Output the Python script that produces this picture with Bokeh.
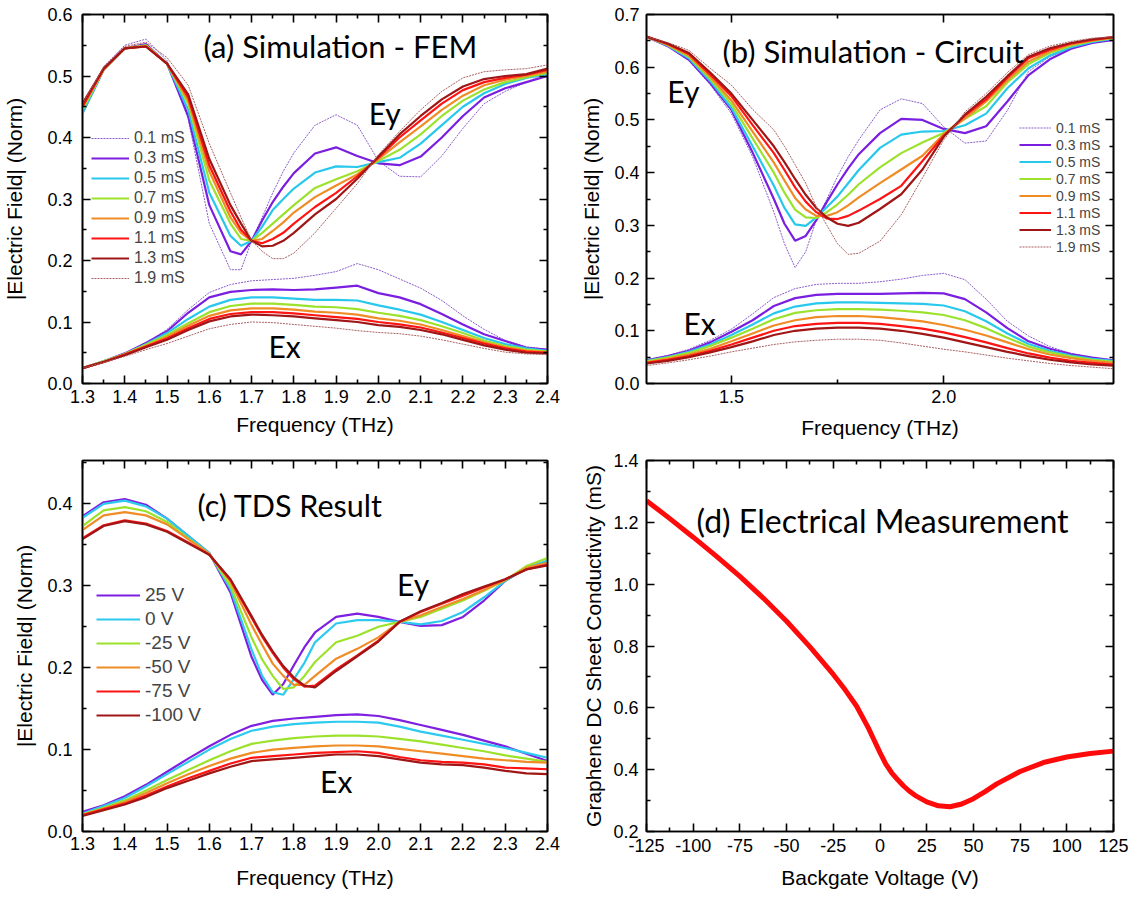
from bokeh.plotting import figure
from bokeh.layouts import column, row
from bokeh.models import (LinearAxis, FixedTicker, Range1d, Label, Legend, LegendItem,
                          CustomJSTickFormatter, NumeralTickFormatter)
from bokeh.embed import file_html
from bokeh.resources import INLINE

# ---------------- data ----------------
# (a) FEM simulation
cond_labels = ["0.1 mS", "0.3 mS", "0.5 mS", "0.7 mS", "0.9 mS", "1.1 mS", "1.3 mS", "1.9 mS"]
freq_a_ey = [1.30, 1.35, 1.40, 1.45, 1.50, 1.55, 1.60, 1.65, 1.675, 1.70, 1.725, 1.75, 1.775,
             1.80, 1.85, 1.90, 1.95, 2.00, 2.05, 2.10, 2.15, 2.20, 2.25, 2.30, 2.35, 2.40]
a_ey_01 = [.44, .515, .55, .56, .525, .43, .26, .185, .185, .232, .27, .31, .345, .375, .42, .437, .42, .362, .337, .336, .37, .415, .455, .475, .49, .505]
a_ey_03 = [.44, .51, .545, .552, .52, .435, .29, .215, .21, .232, .265, .295, .32, .342, .374, .384, .37, .358, .355, .369, .40, .435, .465, .48, .49, .50]
a_ey_05 = [.44, .51, .545, .55, .52, .445, .31, .24, .224, .232, .255, .282, .30, .317, .343, .353, .352, .36, .367, .39, .42, .45, .472, .487, .497, .503]
a_ey_07 = [.445, .51, .545, .55, .52, .455, .33, .26, .235, .232, .245, .26, .275, .29, .318, .332, .345, .362, .38, .405, .435, .46, .478, .49, .498, .505]
a_ey_09 = [.45, .51, .545, .549, .52, .46, .345, .27, .245, .232, .235, .248, .262, .278, .303, .322, .34, .365, .392, .418, .445, .468, .485, .494, .50, .507]
a_ey_11 = [.45, .512, .545, .548, .52, .465, .355, .28, .25, .232, .228, .235, .245, .26, .287, .31, .337, .367, .40, .428, .455, .477, .49, .497, .502, .51]
a_ey_13 = [.455, .512, .545, .548, .52, .47, .365, .29, .26, .232, .223, .224, .232, .245, .275, .30, .333, .369, .405, .435, .462, .483, .495, .50, .503, .512]
a_ey_19 = [.455, .515, .548, .555, .53, .485, .39, .31, .27, .232, .215, .203, .203, .212, .245, .285, .325, .372, .41, .445, .475, .497, .507, .51, .512, .518]

freq_a_ex = [1.30, 1.35, 1.40, 1.45, 1.50, 1.55, 1.60, 1.65, 1.70, 1.75, 1.80, 1.85,
             1.90, 1.95, 2.00, 2.05, 2.10, 2.15, 2.20, 2.25, 2.30, 2.35, 2.40]
a_ex_01 = [.025, .036, .049, .066, .088, .12, .148, .161, .167, .169, .171, .176, .182, .195, .185, .17, .155, .135, .11, .088, .07, .06, .055]
a_ex_03 = [.025, .036, .049, .066, .085, .115, .14, .149, .152, .153, .152, .153, .156, .159, .147, .14, .129, .113, .096, .08, .069, .058, .055]
a_ex_05 = [.025, .036, .048, .064, .082, .105, .125, .136, .14, .14, .138, .136, .136, .135, .127, .12, .112, .10, .087, .074, .064, .057, .053]
a_ex_07 = [.025, .036, .048, .063, .079, .098, .116, .126, .13, .13, .128, .125, .124, .121, .115, .11, .103, .093, .082, .07, .061, .055, .052]
a_ex_09 = [.025, .035, .047, .061, .076, .094, .11, .119, .122, .122, .12, .117, .115, .112, .106, .102, .096, .087, .077, .067, .059, .053, .051]
a_ex_11 = [.025, .035, .047, .06, .073, .09, .105, .113, .116, .116, .114, .111, .108, .105, .10, .096, .091, .083, .074, .065, .057, .052, .05]
a_ex_13 = [.025, .035, .046, .059, .071, .087, .101, .109, .112, .111, .109, .106, .103, .10, .095, .092, .087, .08, .071, .062, .055, .05, .049]
a_ex_19 = [.025, .034, .044, .055, .065, .077, .089, .096, .10, .099, .096, .093, .09, .086, .083, .081, .077, .071, .064, .057, .051, .048, .047]

# (b) circuit simulation
freq_b_ey = [1.30, 1.35, 1.40, 1.45, 1.50, 1.55, 1.60, 1.625, 1.65, 1.675, 1.70, 1.725, 1.75, 1.775,
             1.80, 1.85, 1.90, 1.95, 2.00, 2.05, 2.10, 2.15, 2.20, 2.25, 2.30, 2.35, 2.40]
b_ey_01 = [.658, .64, .612, .567, .512, .43, .325, .265, .22, .25, .31, .35, .393, .43, .462, .519, .54, .531, .487, .456, .46, .518, .592, .62, .637, .647, .653]
b_ey_03 = [.658, .64, .614, .57, .519, .438, .35, .303, .271, .28, .31, .345, .378, .408, .435, .475, .502, .50, .483, .475, .488, .535, .585, .615, .635, .646, .652]
b_ey_05 = [.658, .641, .617, .574, .523, .45, .375, .333, .302, .299, .315, .335, .355, .38, .405, .447, .472, .478, .479, .49, .512, .56, .598, .622, .638, .648, .654]
b_ey_07 = [.658, .642, .62, .578, .53, .465, .40, .362, .33, .315, .314, .325, .34, .358, .378, .41, .437, .457, .475, .502, .526, .571, .606, .627, .641, .65, .655]
b_ey_09 = [.658, .643, .622, .582, .537, .478, .419, .385, .352, .33, .318, .318, .325, .338, .353, .38, .406, .432, .473, .503, .535, .575, .611, .63, .643, .651, .656]
b_ey_11 = [.658, .644, .625, .586, .545, .49, .437, .405, .372, .345, .325, .313, .312, .318, .328, .35, .375, .422, .47, .508, .539, .58, .617, .633, .645, .652, .657]
b_ey_13 = [.658, .645, .627, .59, .55, .50, .45, .42, .388, .358, .333, .315, .303, .299, .305, .331, .359, .406, .468, .51, .544, .583, .62, .636, .646, .653, .657]
b_ey_19 = [.658, .647, .632, .598, .566, .52, .481, .45, .415, .38, .335, .30, .265, .245, .247, .27, .32, .39, .462, .515, .55, .59, .624, .64, .649, .655, .658]

freq_b_ex = freq_a_ex
b_ex_01 = [.045, .053, .065, .082, .103, .132, .163, .18, .188, .19, .19, .193, .198, .205, .209, .197, .16, .118, .09, .07, .057, .049, .043]
b_ex_03 = [.044, .052, .062, .078, .098, .12, .147, .162, .168, .17, .17, .17, .171, .172, .171, .16, .135, .105, .08, .066, .056, .049, .044]
b_ex_05 = [.043, .05, .06, .074, .092, .112, .133, .146, .152, .154, .154, .153, .152, .151, .148, .137, .118, .095, .075, .062, .053, .047, .043]
b_ex_07 = [.042, .049, .058, .071, .087, .104, .122, .134, .139, .141, .141, .14, .138, .135, .13, .12, .105, .087, .07, .059, .051, .045, .041]
b_ex_09 = [.04, .047, .055, .066, .08, .095, .11, .12, .126, .128, .128, .126, .122, .118, .111, .102, .091, .078, .065, .055, .048, .043, .039]
b_ex_11 = [.039, .045, .052, .062, .074, .087, .10, .109, .113, .115, .115, .113, .109, .104, .097, .088, .078, .067, .057, .049, .043, .039, .036]
b_ex_13 = [.038, .043, .05, .059, .069, .08, .092, .10, .104, .106, .106, .104, .10, .094, .087, .078, .069, .06, .052, .045, .04, .036, .034]
b_ex_19 = [.034, .039, .045, .052, .06, .067, .074, .079, .082, .084, .084, .082, .077, .071, .065, .06, .054, .048, .043, .038, .034, .031, .028]

# (c) TDS result
volt_labels = ["25 V", "0 V", "-25 V", "-50 V", "-75 V", "-100 V"]
freq_c_ey = [1.30, 1.35, 1.40, 1.45, 1.50, 1.55, 1.60, 1.65, 1.70, 1.725, 1.75, 1.775, 1.80,
             1.825, 1.85, 1.90, 1.95, 2.00, 2.05, 2.10, 2.15, 2.20, 2.25, 2.30, 2.35, 2.40]
c_ey_p25 = [.385, .402, .406, .399, .382, .361, .34, .292, .213, .185, .167, .18, .203, .225, .243, .262, .266, .262, .256, .251, .252, .262, .282, .306, .322, .33]
c_ey_0 = [.383, .40, .404, .397, .382, .361, .34, .296, .222, .19, .17, .167, .186, .206, .231, .254, .258, .258, .256, .253, .257, .268, .286, .306, .321, .331]
c_ey_m25 = [.373, .392, .396, .391, .378, .358, .339, .3, .237, .21, .19, .174, .176, .19, .207, .231, .239, .25, .256, .262, .272, .282, .294, .307, .324, .334]
c_ey_m50 = [.368, .386, .39, .386, .375, .357, .339, .305, .252, .228, .205, .19, .179, .179, .19, .211, .223, .237, .256, .264, .274, .284, .295, .307, .322, .328]
c_ey_m75 = [.358, .374, .38, .376, .367, .353, .338, .307, .261, .238, .218, .20, .186, .177, .178, .198, .215, .233, .256, .268, .278, .288, .298, .308, .32, .326]
c_ey_m100 = [.357, .373, .379, .375, .366, .352, .338, .308, .263, .24, .22, .202, .188, .178, .176, .196, .214, .232, .256, .269, .279, .29, .299, .308, .32, .325]

freq_c_ex = freq_a_ex
c_ex_p25 = [.024, .032, .043, .057, .073, .089, .104, .118, .129, .135, .138, .14, .142, .143, .141, .136, .13, .124, .118, .111, .104, .095, .086]
c_ex_0 = [.022, .031, .041, .055, .07, .085, .10, .113, .123, .128, .131, .133, .134, .134, .133, .128, .122, .117, .112, .107, .102, .096, .09]
c_ex_m25 = [.021, .029, .038, .05, .063, .075, .087, .098, .107, .111, .114, .116, .117, .117, .116, .113, .11, .106, .102, .098, .093, .089, .085]
c_ex_m50 = [.02, .028, .036, .047, .059, .07, .08, .089, .096, .10, .102, .104, .105, .105, .104, .101, .098, .095, .092, .089, .087, .085, .084]
c_ex_m75 = [.02, .027, .034, .044, .055, .065, .074, .083, .09, .092, .094, .096, .097, .098, .096, .091, .087, .085, .084, .082, .078, .077, .076]
c_ex_m100 = [.019, .026, .033, .042, .053, .062, .071, .079, .086, .088, .09, .092, .094, .094, .092, .088, .084, .082, .081, .078, .074, .071, .07]

# (d) electrical measurement
gate_v = [-125, -112.5, -100, -87.5, -75, -62.5, -50, -37.5, -25, -18.75, -12.5, -6.25, -3.125, 0,
          3.125, 6.25, 9.375, 12.5, 15.625, 18.75, 25, 31.25, 37.5, 43.75, 50, 56.25, 62.5, 75,
          87.5, 100, 112.5, 125]
sheet_cond = [1.27, 1.212, 1.152, 1.09, 1.025, 0.955, 0.88, 0.797, 0.708, 0.659, 0.605, 0.535, 0.495, 0.455,
              0.418, 0.39, 0.368, 0.348, 0.331, 0.317, 0.296, 0.283, 0.28, 0.289, 0.306, 0.329, 0.354, 0.394,
              0.423, 0.441, 0.452, 0.46]

freq_ticks = [1.3, 1.4, 1.5, 1.6, 1.7, 1.8, 1.9, 2.0, 2.1, 2.2, 2.3, 2.4]
freq_minor = [1.35, 1.45, 1.55, 1.65, 1.75, 1.85, 1.95, 2.05, 2.15, 2.25, 2.35]

# ---------------- styling ----------------
COND_COLORS = ["#8a5cc8", "#7a1ee0", "#28c8ec", "#9ce22c", "#f08c26", "#ff1414", "#a01616", "#a86060"]
COND_WIDTH = [1, 2.2, 2.2, 2.2, 2.2, 2.2, 2.2, 1]
COND_DASH = ["2 1", "solid", "solid", "solid", "solid", "solid", "solid", "2 1"]
VOLT_COLORS = ["#7f1fe0", "#2ccaee", "#9ce22c", "#f08c26", "#ff1414", "#a01616"]

TICK_FONT = "Liberation Sans"
TITLE_FONT = "Lato"


def style_axis(ax, ticks, minor, show, fmt="0.0", standoff=8, lab_standoff=8):
    ax.ticker = FixedTicker(ticks=ticks, minor_ticks=minor)
    ax.major_tick_in = 8
    ax.major_tick_out = 0
    ax.minor_tick_in = 4
    ax.minor_tick_out = 0
    ax.major_tick_line_width = 1.6
    ax.minor_tick_line_width = 1.6
    ax.axis_line_width = 1.6
    ax.axis_line_color = "black"
    ax.major_tick_line_color = "black"
    ax.minor_tick_line_color = "black"
    if show:
        ax.formatter = NumeralTickFormatter(format=fmt)
        ax.major_label_text_font = TICK_FONT
        ax.major_label_text_font_size = "18px"
        ax.major_label_text_color = "black"
        ax.major_label_standoff = standoff
        ax.axis_label_text_font = TICK_FONT
        ax.axis_label_text_font_size = "21px"
        ax.axis_label_text_font_style = "normal"
        ax.axis_label_text_color = "black"
        ax.axis_label_standoff = lab_standoff
    else:
        ax.formatter = CustomJSTickFormatter(code="return ''")
        ax.major_label_text_font_size = "0px"
        ax.major_label_standoff = 0
        ax.axis_label_standoff = 0


def make_fig(w, h, xr, yr, bl, br, bt, bb, xt, xm, yt, ym, xlab, ylab, xfmt="0.0", yfmt="0.0",
             xso=(8, 8), yso=(10, 10)):
    p = figure(width=w, height=h, x_range=Range1d(*xr), y_range=Range1d(*yr),
               output_backend="svg", toolbar_location=None,
               min_border_left=bl, min_border_right=br, min_border_top=bt, min_border_bottom=bb)
    p.grid.visible = False
    p.outline_line_color = "black"
    p.outline_line_width = 1.6
    p.background_fill_color = "white"
    p.border_fill_color = "white"
    style_axis(p.xaxis[0], xt, xm, True, xfmt, *xso)
    style_axis(p.yaxis[0], yt, ym, True, yfmt, *yso)
    p.xaxis[0].axis_label = xlab
    p.yaxis[0].axis_label = ylab
    top = LinearAxis()
    style_axis(top, xt, xm, False)
    p.add_layout(top, "above")
    right = LinearAxis()
    style_axis(right, yt, ym, False)
    p.add_layout(right, "right")
    return p


def add_label(p, x, y, text, size):
    p.add_layout(Label(x=x, y=y, text=text, text_font=TITLE_FONT, text_font_size=size,
                       text_align="left", text_baseline="middle", text_color="black"))


def add_legend(p, items, loc, glyph_w, h, font_size, standoff=5):
    leg = Legend(items=items, location=loc, orientation="vertical",
                 glyph_width=glyph_w, glyph_height=h, label_height=h, spacing=0,
                 padding=0, margin=0, label_standoff=standoff,
                 label_text_font=TICK_FONT, label_text_font_size=font_size,
                 border_line_color=None, background_fill_alpha=0)
    p.add_layout(leg)


ey05 = [0.05, 0.15, 0.25, 0.35, 0.45, 0.55, 0.65]

# ---- (a)
pa = make_fig(566, 443, (1.3, 2.4), (0, 0.6), 82, 19, 14, 58,
              freq_ticks, freq_minor, [0, .1, .2, .3, .4, .5, .6], ey05[:6],
              "Frequency (THz)", "|Electric Field| (Norm)", yso=(10, 18), xso=(6, 7))
a_ey = [a_ey_01, a_ey_03, a_ey_05, a_ey_07, a_ey_09, a_ey_11, a_ey_13, a_ey_19]
a_ex = [a_ex_01, a_ex_03, a_ex_05, a_ex_07, a_ex_09, a_ex_11, a_ex_13, a_ex_19]
items = []
for i in range(8):
    r = pa.line(freq_a_ey, a_ey[i], line_color=COND_COLORS[i], line_width=COND_WIDTH[i], line_dash=COND_DASH[i])
    pa.line(freq_a_ex, a_ex[i], line_color=COND_COLORS[i], line_width=COND_WIDTH[i], line_dash=COND_DASH[i])
    items.append(LegendItem(label=cond_labels[i], renderers=[r]))
add_legend(pa, items, (9, 95), 38, 20, "16px")
add_label(pa, 1.586, 0.548, "(a) Simulation - FEM", "31px")
add_label(pa, 1.977, 0.44, "Ey", "30px")
add_label(pa, 1.74, 0.0615, "Ex", "30px")

# ---- (b)
pb = make_fig(566, 443, (1.3, 2.4), (0, 0.7), 80, 19, 11, 60,
              [1.5, 2.0], [1.75, 2.25], [0, .1, .2, .3, .4, .5, .6, .7], ey05,
              "Frequency (THz)", "|Electric Field| (Norm)", yso=(7, 8), xso=(6, 10))
b_ey = [b_ey_01, b_ey_03, b_ey_05, b_ey_07, b_ey_09, b_ey_11, b_ey_13, b_ey_19]
b_ex = [b_ex_01, b_ex_03, b_ex_05, b_ex_07, b_ex_09, b_ex_11, b_ex_13, b_ex_19]
items = []
for i in range(8):
    r = pb.line(freq_b_ey, b_ey[i], line_color=COND_COLORS[i], line_width=COND_WIDTH[i], line_dash=COND_DASH[i])
    pb.line(freq_b_ex, b_ex[i], line_color=COND_COLORS[i], line_width=COND_WIDTH[i], line_dash=COND_DASH[i])
    items.append(LegendItem(label=cond_labels[i], renderers=[r]))
add_legend(pb, items, (373, 128), 32, 17, "14px")
add_label(pb, 1.479, 0.63, "(b) Simulation - Circuit", "31px")
add_label(pb, 1.349, 0.555, "Ey", "30px")
add_label(pb, 1.387, 0.114, "Ex", "30px")

# ---- (c)
pc = make_fig(566, 454, (1.3, 2.4), (0, 0.453), 82, 19, 15, 66,
              freq_ticks, freq_minor, [0, .1, .2, .3, .4], [0.05, 0.15, 0.25, 0.35, 0.45],
              "Frequency (THz)", "|Electric Field| (Norm)", yso=(10, 8), xso=(5, 13))
c_ey = [c_ey_p25, c_ey_0, c_ey_m25, c_ey_m50, c_ey_m75, c_ey_m100]
c_ex = [c_ex_p25, c_ex_0, c_ex_m25, c_ex_m50, c_ex_m75, c_ex_m100]
items = []
for i in range(6):
    r = pc.line(freq_c_ey, c_ey[i], line_color=VOLT_COLORS[i], line_width=2.2)
    pc.line(freq_c_ex, c_ex[i], line_color=VOLT_COLORS[i], line_width=2.2)
    items.append(LegendItem(label=volt_labels[i], renderers=[r]))
add_legend(pc, items, (14, 104), 44, 24, "19px", 5)
add_label(pc, 1.572, 0.399, "(c) TDS Result", "30.5px")
add_label(pc, 2.044, 0.3026, "Ey", "30px")
add_label(pc, 1.862, 0.0617, "Ex", "30px")

# ---- (d)
pd_ = make_fig(566, 454, (-125, 125), (0.2, 1.4), 80, 19, 17, 64,
               [-125, -100, -75, -50, -25, 0, 25, 50, 75, 100, 125],
               [-112.5, -87.5, -62.5, -37.5, -12.5, 12.5, 37.5, 62.5, 87.5, 112.5],
               [0.2, 0.4, 0.6, 0.8, 1.0, 1.2, 1.4], [0.3, 0.5, 0.7, 0.9, 1.1, 1.3],
               "Backgate Voltage (V)", "Graphene DC Sheet Conductivity (mS)", xfmt="0", yfmt="0.0",
               yso=(8, 5), xso=(7, 11))
pd_.line(gate_v, sheet_cond, line_color="#ff0a0a", line_width=5)
add_label(pd_, -98.2, 1.207, "(d) Electrical Measurement", "32px")

layout = column(row(pa, pb), row(pc, pd_))
open("out.html", "w").write(file_html(layout, INLINE))
